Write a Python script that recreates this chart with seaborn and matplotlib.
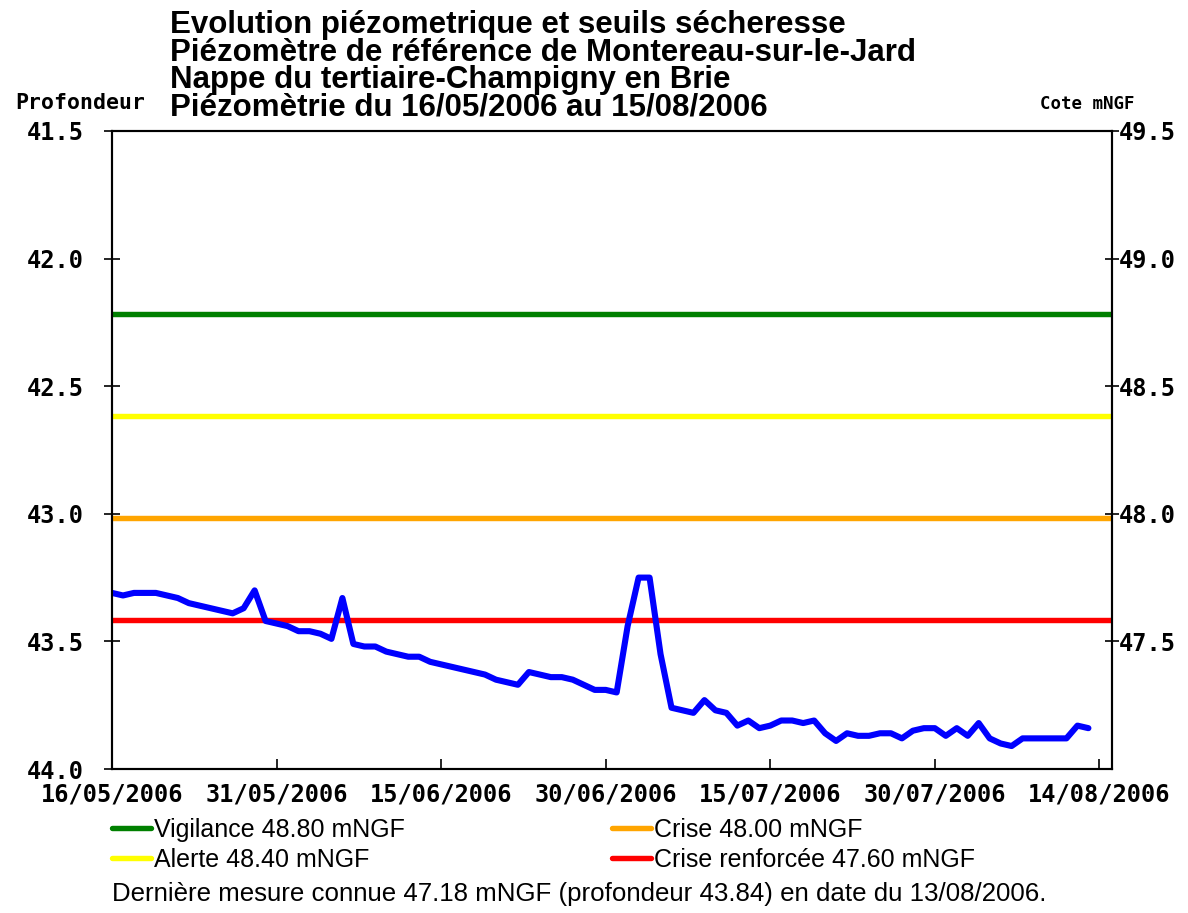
import numpy as np
import pandas as pd
import matplotlib
matplotlib.use("Agg")
import matplotlib.pyplot as plt
import matplotlib.transforms as mtransforms
import seaborn as sns

# ---------------- data ----------------
start_date = "2006-05-16"
profondeur = [
    43.31, 43.32, 43.31, 43.31, 43.31, 43.32, 43.33, 43.35, 43.36, 43.37,
    43.38, 43.39, 43.37, 43.30, 43.42, 43.43, 43.44, 43.46, 43.46, 43.47,
    43.49, 43.33, 43.51, 43.52, 43.52, 43.54, 43.55, 43.56, 43.56, 43.58,
    43.59, 43.60, 43.61, 43.62, 43.63, 43.65, 43.66, 43.67, 43.62, 43.63,
    43.64, 43.64, 43.65, 43.67, 43.69, 43.69, 43.70, 43.44, 43.25, 43.25,
    43.55, 43.76, 43.77, 43.78, 43.73, 43.77, 43.78, 43.83, 43.81, 43.84,
    43.83, 43.81, 43.81, 43.82, 43.81, 43.86, 43.89, 43.86, 43.87, 43.87,
    43.86, 43.86, 43.88, 43.85, 43.84, 43.84, 43.87, 43.84, 43.87, 43.82,
    43.88, 43.90, 43.91, 43.88, 43.88, 43.88, 43.88, 43.88, 43.83, 43.84,
]
repere_ngf = 91.0  # cote = repere - profondeur

seuil_noms = ["Vigilance", "Alerte", "Crise", "Crise renforcée"]
seuil_cotes = [48.80, 48.40, 48.00, 47.60]
seuil_couleurs = ["#008000", "#FFFF00", "#FFA500", "#FF0000"]

tick_dates = ["2006-05-16", "2006-05-31", "2006-06-15", "2006-06-30",
              "2006-07-15", "2006-07-30", "2006-08-14"]
tick_labels = ["16/05/2006", "31/05/2006", "15/06/2006", "30/06/2006",
               "15/07/2006", "30/07/2006", "14/08/2006"]
left_ticks = [41.5, 42.0, 42.5, 43.0, 43.5, 44.0]
right_ticks = [49.5, 49.0, 48.5, 48.0, 47.5]

titre = ["Evolution piézometrique et seuils sécheresse",
         "Piézomètre de référence de Montereau-sur-le-Jard",
         "Nappe du tertiaire-Champigny en Brie",
         "Piézomètrie du 16/05/2006 au 15/08/2006"]
derniere = "Dernière mesure connue 47.18 mNGF (profondeur 43.84) en date du 13/08/2006."

# ---------------- plot ----------------
sns.set_style("white")
plt.rcParams['font.family'] = ['Liberation Sans', 'DejaVu Sans']
plt.rcParams.update({"text.color": "black", "xtick.color": "black",
                     "ytick.color": "black", "axes.labelcolor": "black"})

dates = pd.date_range(start_date, periods=len(profondeur), freq="D")
df = pd.DataFrame({"date": dates, "profondeur": profondeur})

fig = plt.figure(figsize=(11.88, 9.13), dpi=100)
W, H = 1188, 913
ax = fig.add_axes([112 / W, 1 - 769 / H, 1000 / W, 638 / H])

# the original renders thick threshold lines a few pixels below their value
shift = mtransforms.ScaledTranslation(0, -4 / 100, fig.dpi_scale_trans)
handles = []
for nom, cote, col in zip(seuil_noms, seuil_cotes, seuil_couleurs):
    h = ax.axhline(repere_ngf - cote, color=col, lw=3.9, zorder=2,
                   label=f"{nom} {cote:.2f} mNGF")
    h.set_transform(h.get_transform() + shift)
    handles.append(h)

sns.lineplot(data=df, x="date", y="profondeur", ax=ax, color="#0000FF",
             lw=4.4, zorder=3, legend=False, solid_joinstyle="round",
             solid_capstyle="round")

x0 = pd.Timestamp(start_date)
ax.set_xlim(x0, x0 + pd.Timedelta(days=91.15))
ax.set_ylim(44.0, 41.5)
ax.set_xlabel("")
ax.set_ylabel("")

mono = dict(family="DejaVu Sans Mono", weight="bold", size=17)
ax.set_xticks(pd.to_datetime(tick_dates))
ax.set_xticklabels(tick_labels, fontdict=mono)
ax.set_yticks(left_ticks)
ax.set_yticklabels([f"{v:.1f}" for v in left_ticks], fontdict=mono)
ax.tick_params(axis="x", direction="in", length=7, width=1.2, pad=10,
               bottom=True, top=False)
ax.tick_params(axis="y", direction="inout", length=12, width=1.2, pad=14,
               left=True)
for s in ax.spines.values():
    s.set_color("black")
    s.set_linewidth(1.5)

ax2 = ax.twinx()
ax2.set_ylim(repere_ngf - 44.0, repere_ngf - 41.5)
ax2.set_yticks(right_ticks)
ax2.set_yticklabels([f"{v:.1f}" for v in right_ticks], fontdict=mono)
ax2.tick_params(axis="y", direction="inout", length=10, width=1.2, pad=0,
                right=True)
for s in ax2.spines.values():
    s.set_color("black")
    s.set_linewidth(1.5)
ax2.grid(False)

# title block (one multi-line text, tight line spacing as in the original)
fig.text(170 / W, 1 - 116 / H, "\n".join(titre), fontsize=22.5,
         fontweight="bold", family="Liberation Sans", va="baseline",
         ha="left", linespacing=0.9, color="black")

fig.text(15 / W, 1 - 109 / H, "Profondeur", family="DejaVu Sans Mono",
         weight="bold", size=15.5, va="baseline", ha="left")
fig.text(1135 / W, 1 - 109 / H, "Cote mNGF", family="DejaVu Sans Mono",
         weight="bold", size=12.5, va="baseline", ha="right")

# legend (two columns)
leg_kw = dict(loc="upper left", frameon=False, handlelength=1.55,
              handletextpad=0.12, labelspacing=0.22, borderpad=0,
              borderaxespad=0, prop={"family": "Liberation Sans", "size": 18},
              bbox_transform=fig.transFigure)
fig.legend(handles=[handles[0], handles[1]],
           labels=[h.get_label() for h in handles[:2]],
           bbox_to_anchor=(112 / W, 1 - 818 / H), **leg_kw)
fig.legend(handles=[handles[2], handles[3]],
           labels=[h.get_label() for h in handles[2:]],
           bbox_to_anchor=(612 / W, 1 - 818 / H), **leg_kw)

fig.text(112 / W, 1 - 894 / H, derniere, family="Liberation Sans",
         size=18.6, va="center", ha="left")

fig.savefig("out.png", dpi=100)
